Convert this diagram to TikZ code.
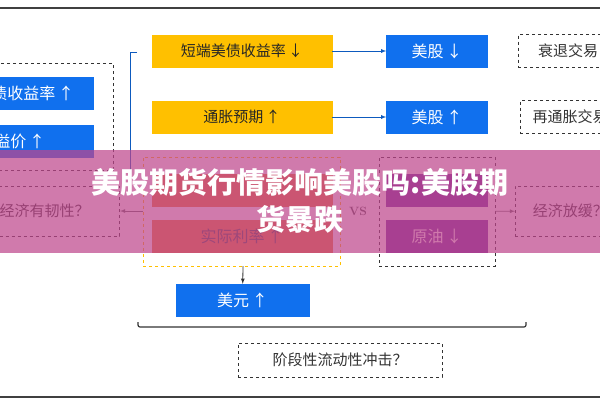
\documentclass[tikz,border=0pt]{standalone}
\usepackage{fontspec}
\newfontfamily\cjk{Noto Sans CJK SC}
\usepackage{tikz}
\usetikzlibrary{positioning}
\definecolor{boxyellow}{RGB}{255,192,0}
\definecolor{boxblue}{RGB}{16,112,238}
\definecolor{boxorange}{RGB}{237,125,49}
\definecolor{boxpurple}{RGB}{112,48,160}
\definecolor{banner}{RGB}{190,70,140}
\tikzset{
    yellowbox/.style={fill=boxyellow, draw=boxyellow, minimum width=180pt, minimum height=32pt, font=\cjk\fontsize{15}{17}\selectfont, text=black!85},
    bluebox/.style={fill=boxblue, draw=boxblue, minimum width=101pt, minimum height=32pt, font=\cjk\fontsize{16}{18}\selectfont, text=white},
    orangebox/.style={fill=boxorange, draw=boxorange, minimum width=180pt, minimum height=32pt, font=\cjk\fontsize{16}{18}\selectfont, text=black!70},
    purplebox/.style={fill=boxpurple, draw=boxpurple, minimum width=101pt, minimum height=32pt, font=\cjk\fontsize{16}{18}\selectfont, text=white},
    dashbox/.style={draw=black!80, thick, dashed, minimum height=33pt, font=\cjk\fontsize{15}{17}\selectfont, text=black!80},
    flow/.style={->, >=latex, thick, boxblue!80!black}
}
\begin{document}
\begin{tikzpicture}[x=1pt, y=-1pt]
    \useasboundingbox (0,0) rectangle (600,400);
    \clip (0,0) rectangle (600,400);
    % Frame lines
    \draw [ultra thick, black!75] (0,8) -- (600,8);
    \draw [ultra thick, black!75] (0,397) -- (600,397);

    %% Upper chain
    \node [yellowbox] (rate) at (242,51) {短端美债收益率\,↓};
    \node [bluebox] (stockdn) at (437,51) {美股\,↓};
    \node [dashbox, minimum width=100pt] (recess) at (568,51) {衰退交易};
    \draw [flow] (rate) -- (stockdn);

    \node [yellowbox] (infl) at (242,117) {通胀预期\,↑};
    \node [bluebox] (stockup) at (437,117) {美股\,↑};
    \node [dashbox, minimum width=100pt] (reinfl) at (570,117) {再通胀交易};
    \draw [flow] (infl) -- (stockup);

    % Left bracket
    \draw [thick, boxblue!80!black] (137,52) -- (130,52) -- (130,180);

    %% Left group
    \draw [dashbox] (-20,63) rectangle (113,170);
    \node [bluebox, minimum width=136pt, anchor=east] (yield) at (93,93) {美债收益率\,↑};
    \node [bluebox, minimum width=178pt, anchor=east] (prem) at (93,141) {风险溢价\,↑};
    \node [dashbox, minimum width=150pt, minimum height=50pt, anchor=east] (resil) at (120,211) {经济有韧性？};

    %% Middle group
    \node [draw=boxyellow, thick, dashed, minimum width=197pt, minimum height=109pt] (midgrp) at (241.5,211.5) {};
    \node [orangebox] (nominal) at (242,190) {};
    \node [orangebox] (real) at (242,236) {实际利率\,↑};
    \draw [->, >=latex, thick, black!60] (midgrp.west |- resil) -- (resil);
    \node [font=\bfseries\fontsize{12}{14}\selectfont, text=black!70] (vs) at (358,211) {VS};

    \node [dashbox, minimum width=116pt, minimum height=109pt] (rightgrp) at (437,211.5) {};
    \node [purplebox] (gold) at (437,190) {};
    \node [purplebox] (oil) at (437,236) {原油\,↓};
    \node [dashbox, minimum width=110pt, minimum height=50pt, anchor=west] (slow) at (515,211) {经济放缓？};
    \draw [->, >=latex, thick, black!60] (rightgrp) -- (slow);

    %% Dollar
    \node [bluebox, minimum width=133pt] (usd) at (242.5,300) {美元\,↑};
    \draw [->, >=latex, thick, black!80] (243,266) -- (usd);

    % Brace
    \draw [very thick, black!80, rounded corners=2pt] (138,322) -- (138,327) -- (526,327) -- (526,322);

    \node [dashbox, minimum width=204pt, minimum height=34pt] (shock) at (340,360) {阶段性流动性冲击？};

    %% Title banner
    \fill [banner, opacity=0.72] (0,150) rectangle (600,253);
    \node [align=center, text=white, font=\cjk\bfseries\fontsize{29}{37}\selectfont] (title) at (300,201) {美股期货行情影响美股吗:美股期\\货暴跌};
\end{tikzpicture}
\end{document}
